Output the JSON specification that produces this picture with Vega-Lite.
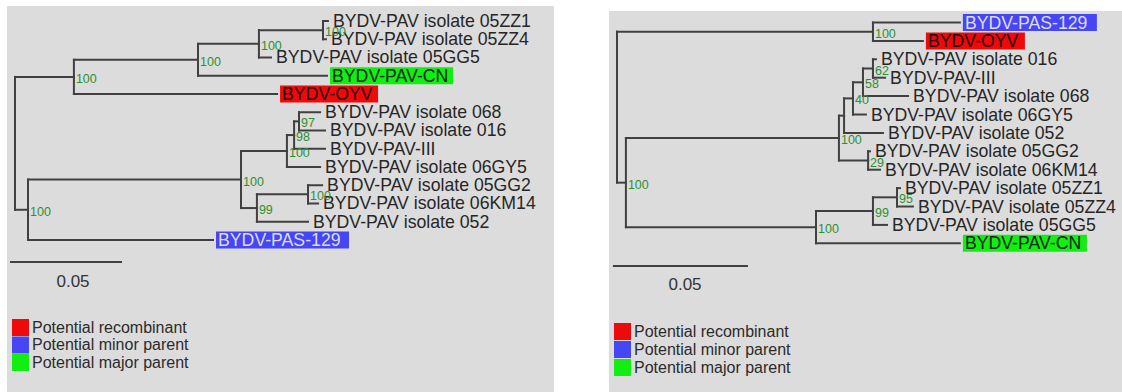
{
  "$schema": "https://vega.github.io/schema/vega-lite/v6.json",
  "padding": {"left": 7, "top": 6, "right": 0, "bottom": 0},
  "spacing": 55,
  "background": "white",
  "config": {
    "font": "Liberation Sans",
    "view": {"fill": "#dcdcdc", "stroke": null}
  },
  "datasets": {
    "left": [
      {"id": "root", "x": 0, "y": 6.703},
      {"id": "A", "x": 0.0263, "y": 3.063, "px": 0, "py": 6.703, "boot": 100},
      {"id": "n198", "x": 0.0817, "y": 2.125, "px": 0.0263, "py": 3.063, "boot": 100},
      {"id": "n259", "x": 0.1089, "y": 1.25, "px": 0.0817, "py": 2.125, "boot": 100},
      {"id": "nZZ", "x": 0.1375, "y": 0.5, "px": 0.1089, "py": 1.25, "boot": 100},
      {"name": "BYDV-PAV isolate 05ZZ1", "x": 0.1397, "y": 0, "px": 0.1375, "py": 0.5},
      {"name": "BYDV-PAV isolate 05ZZ4", "x": 0.1388, "y": 1, "px": 0.1375, "py": 0.5},
      {"name": "BYDV-PAV isolate 05GG5", "x": 0.1143, "y": 2, "px": 0.1089, "py": 1.25},
      {"name": "BYDV-PAV-CN", "role": "Potential major parent", "x": 0.1393, "y": 3, "px": 0.0817, "py": 2.125},
      {"name": "BYDV-OYV", "role": "Potential recombinant", "x": 0.117, "y": 4, "px": 0.0263, "py": 3.063},
      {"id": "n28", "x": 0.0058, "y": 10.344, "px": 0, "py": 6.703, "boot": 100},
      {"id": "n241", "x": 0.1009, "y": 8.688, "px": 0.0058, "py": 10.344, "boot": 100},
      {"id": "n287", "x": 0.1214, "y": 7.125, "px": 0.1009, "py": 8.688, "boot": 100},
      {"id": "n295", "x": 0.1246, "y": 6.25, "px": 0.1214, "py": 7.125, "boot": 98},
      {"id": "n299", "x": 0.1268, "y": 5.5, "px": 0.1246, "py": 6.25, "boot": 97},
      {"name": "BYDV-PAV isolate 068", "x": 0.1362, "y": 5, "px": 0.1268, "py": 5.5},
      {"name": "BYDV-PAV isolate 016", "x": 0.1384, "y": 6, "px": 0.1268, "py": 5.5},
      {"name": "BYDV-PAV-III", "x": 0.1384, "y": 7, "px": 0.1246, "py": 6.25},
      {"name": "BYDV-PAV isolate 06GY5", "x": 0.1362, "y": 8, "px": 0.1214, "py": 7.125},
      {"id": "n257", "x": 0.108, "y": 10.25, "px": 0.1009, "py": 8.688, "boot": 99},
      {"id": "n308", "x": 0.1308, "y": 9.5, "px": 0.108, "py": 10.25, "boot": 100},
      {"name": "BYDV-PAV isolate 05GG2", "x": 0.1371, "y": 9, "px": 0.1308, "py": 9.5},
      {"name": "BYDV-PAV isolate 06KM14", "x": 0.1353, "y": 10, "px": 0.1308, "py": 9.5},
      {"name": "BYDV-PAV isolate 052", "x": 0.1308, "y": 11, "px": 0.108, "py": 10.25},
      {"name": "BYDV-PAS-129", "role": "Potential minor parent", "x": 0.0884, "y": 12, "px": 0.0058, "py": 10.344}
    ],
    "right": [
      {"id": "root", "x": 0, "y": 4.602},
      {"id": "A", "x": 0.0948, "y": 0.5, "px": 0, "py": 4.602, "boot": 100},
      {"name": "BYDV-PAS-129", "role": "Potential minor parent", "x": 0.127, "y": 0, "px": 0.0948, "py": 0.5},
      {"name": "BYDV-OYV", "role": "Potential recombinant", "x": 0.1133, "y": 1, "px": 0.0948, "py": 0.5},
      {"id": "B", "x": 0.0033, "y": 8.703, "px": 0, "py": 4.602, "boot": 100},
      {"id": "C", "x": 0.0822, "y": 6.281, "px": 0.0033, "py": 8.703, "boot": 100},
      {"id": "D", "x": 0.0841, "y": 5.063, "px": 0.0822, "py": 6.281},
      {"id": "E", "x": 0.0874, "y": 4.125, "px": 0.0841, "py": 5.063, "boot": 40},
      {"id": "F", "x": 0.0911, "y": 3.25, "px": 0.0874, "py": 4.125, "boot": 58},
      {"id": "G", "x": 0.0948, "y": 2.5, "px": 0.0911, "py": 3.25, "boot": 62},
      {"name": "BYDV-PAV isolate 016", "x": 0.0959, "y": 2, "px": 0.0948, "py": 2.5},
      {"name": "BYDV-PAV-III", "x": 0.0993, "y": 3, "px": 0.0948, "py": 2.5},
      {"name": "BYDV-PAV isolate 068", "x": 0.1078, "y": 4, "px": 0.0911, "py": 3.25},
      {"name": "BYDV-PAV isolate 06GY5", "x": 0.0922, "y": 5, "px": 0.0874, "py": 4.125},
      {"name": "BYDV-PAV isolate 052", "x": 0.0985, "y": 6, "px": 0.0841, "py": 5.063},
      {"id": "H", "x": 0.093, "y": 7.5, "px": 0.0822, "py": 6.281, "boot": 29},
      {"name": "BYDV-PAV isolate 05GG2", "x": 0.0937, "y": 7, "px": 0.093, "py": 7.5},
      {"name": "BYDV-PAV isolate 06KM14", "x": 0.0974, "y": 8, "px": 0.093, "py": 7.5},
      {"id": "I", "x": 0.0737, "y": 11.125, "px": 0.0033, "py": 8.703, "boot": 100},
      {"id": "J", "x": 0.0948, "y": 10.25, "px": 0.0737, "py": 11.125, "boot": 99},
      {"id": "K", "x": 0.1037, "y": 9.5, "px": 0.0948, "py": 10.25, "boot": 95},
      {"name": "BYDV-PAV isolate 05ZZ1", "x": 0.1048, "y": 9, "px": 0.1037, "py": 9.5},
      {"name": "BYDV-PAV isolate 05ZZ4", "x": 0.1096, "y": 10, "px": 0.1037, "py": 9.5},
      {"name": "BYDV-PAV isolate 05GG5", "x": 0.1, "y": 11, "px": 0.0948, "py": 10.25},
      {"name": "BYDV-PAV-CN", "role": "Potential major parent", "x": 0.127, "y": 12, "px": 0.0737, "py": 11.125}
    ],
    "leftScale": [{"x": -0.0022, "x2": 0.0478, "y": 13.21, "lx": 0.0259, "ly": 14.3, "label": "0.05"}],
    "rightScale": [{"x": -0.0015, "x2": 0.0485, "y": 13.23, "lx": 0.0252, "ly": 14.27, "label": "0.05"}]
  },
  "resolve": {
    "scale": {"x": "independent", "y": "independent", "color": "independent"},
    "legend": {"color": "independent"}
  },
  "hconcat": [
    {
      "width": 547,
      "height": 386,
      "layer": [
        {
          "data": {"name": "left"},
          "transform": [{"filter": "isValid(datum.px)"}],
          "mark": {"type": "rule", "color": "#404040", "strokeWidth": 2, "strokeCap": "square"},
          "encoding": {
            "x": {"field": "px", "type": "quantitative", "scale": {"domain": [-0.00357, 0.24063], "nice": false, "zero": false}, "axis": null},
            "y": {"field": "py", "type": "quantitative", "scale": {"domain": [-0.822, 20.33], "nice": false, "zero": false, "reverse": true}, "axis": null},
            "y2": {"field": "y"}
          }
        },
        {
          "data": {"name": "left"},
          "transform": [{"filter": "isValid(datum.px)"}],
          "mark": {"type": "rule", "color": "#404040", "strokeWidth": 2, "strokeCap": "square"},
          "encoding": {
            "x": {"field": "px", "type": "quantitative"},
            "x2": {"field": "x"},
            "y": {"field": "y", "type": "quantitative"}
          }
        },
        {
          "data": {"name": "left"},
          "transform": [{"filter": "datum.name === 'BYDV-OYV'"}],
          "mark": {"type": "rect", "xOffset": 3, "x2Offset": 101, "yOffset": -8.5, "y2Offset": 8.5},
          "encoding": {
            "x": {"field": "x", "type": "quantitative"},
            "x2": {"field": "x"},
            "y": {"field": "y", "type": "quantitative"},
            "y2": {"field": "y"},
            "color": {"field": "role", "type": "nominal",
              "scale": {"domain": ["Potential recombinant", "Potential minor parent", "Potential major parent"], "range": ["#ee0a0a", "#4646f5", "#12ee12"]},
              "legend": {"orient": "none", "legendX": 5, "legendY": 313, "title": null, "symbolType": "square", "symbolSize": 289, "symbolStrokeWidth": 0, "symbolOpacity": 1, "labelFontSize": 16, "labelColor": "#2b2b2b", "labelOffset": 3, "rowPadding": 0.5, "padding": 0}}
          }
        },
        {
          "data": {"name": "left"},
          "transform": [{"filter": "datum.name === 'BYDV-PAV-CN'"}],
          "mark": {"type": "rect", "xOffset": 3, "x2Offset": 126, "yOffset": -8.5, "y2Offset": 8.5},
          "encoding": {
            "x": {"field": "x", "type": "quantitative"},
            "x2": {"field": "x"},
            "y": {"field": "y", "type": "quantitative"},
            "y2": {"field": "y"},
            "color": {"field": "role", "type": "nominal"}
          }
        },
        {
          "data": {"name": "left"},
          "transform": [{"filter": "datum.name === 'BYDV-PAS-129'"}],
          "mark": {"type": "rect", "xOffset": 3, "x2Offset": 136, "yOffset": -8.5, "y2Offset": 8.5},
          "encoding": {
            "x": {"field": "x", "type": "quantitative"},
            "x2": {"field": "x"},
            "y": {"field": "y", "type": "quantitative"},
            "y2": {"field": "y"},
            "color": {"field": "role", "type": "nominal"}
          }
        },
        {
          "data": {"name": "left"},
          "transform": [{"filter": "isValid(datum.name)"}],
          "mark": {"type": "text", "align": "left", "baseline": "middle", "dx": 5, "dy": 1, "fontSize": 17.7},
          "encoding": {
            "x": {"field": "x", "type": "quantitative"},
            "y": {"field": "y", "type": "quantitative"},
            "text": {"field": "name"},
            "color": {"condition": [
              {"test": "datum.name === 'BYDV-PAS-129'", "value": "#dcdcff"},
              {"test": "datum.name === 'BYDV-OYV'", "value": "#2a0000"},
              {"test": "datum.name === 'BYDV-PAV-CN'", "value": "#062806"}
            ], "value": "#262626"}
          }
        },
        {
          "data": {"name": "left"},
          "transform": [{"filter": "isValid(datum.boot)"}],
          "mark": {"type": "text", "align": "left", "baseline": "middle", "dx": 2, "dy": 2, "fontSize": 12.5, "color": "#2e8f2e"},
          "encoding": {
            "x": {"field": "x", "type": "quantitative"},
            "y": {"field": "y", "type": "quantitative"},
            "text": {"field": "boot"}
          }
        },
        {
          "data": {"name": "leftScale"},
          "mark": {"type": "rule", "color": "#404040", "strokeWidth": 2},
          "encoding": {
            "x": {"field": "x", "type": "quantitative"},
            "x2": {"field": "x2"},
            "y": {"field": "y", "type": "quantitative"}
          }
        },
        {
          "data": {"name": "leftScale"},
          "mark": {"type": "text", "align": "center", "baseline": "middle", "fontSize": 17, "color": "#333333"},
          "encoding": {
            "x": {"field": "lx", "type": "quantitative"},
            "y": {"field": "ly", "type": "quantitative"},
            "text": {"field": "label"}
          }
        }
      ]
    },
    {
      "spacing": 4,
      "resolve": {"scale": {"color": "independent"}, "legend": {"color": "independent"}},
      "vconcat": [
        {
          "width": 513,
          "height": 1,
          "view": {"fill": null, "stroke": null},
          "data": {"values": [{"a": 0}]},
          "mark": {"type": "point", "opacity": 0, "size": 0, "strokeWidth": 0},
          "encoding": {}
        },
        {
          "width": 513,
          "height": 381,
          "layer": [
            {
              "data": {"name": "right"},
              "transform": [{"filter": "isValid(datum.px)"}],
              "mark": {"type": "rule", "color": "#404040", "strokeWidth": 2, "strokeCap": "square"},
              "encoding": {
                "x": {"field": "px", "type": "quantitative", "scale": {"domain": [-0.00296, 0.18704], "nice": false, "zero": false}, "axis": null},
                "y": {"field": "py", "type": "quantitative", "scale": {"domain": [-0.625, 20.08], "nice": false, "zero": false, "reverse": true}, "axis": null},
                "y2": {"field": "y"}
              }
            },
            {
              "data": {"name": "right"},
              "transform": [{"filter": "isValid(datum.px)"}],
              "mark": {"type": "rule", "color": "#404040", "strokeWidth": 2, "strokeCap": "square"},
              "encoding": {
                "x": {"field": "px", "type": "quantitative"},
                "x2": {"field": "x"},
                "y": {"field": "y", "type": "quantitative"}
              }
            },
            {
              "data": {"name": "right"},
              "transform": [{"filter": "datum.name === 'BYDV-OYV'"}],
              "mark": {"type": "rect", "xOffset": 3, "x2Offset": 102, "yOffset": -8.5, "y2Offset": 8.5},
              "encoding": {
                "x": {"field": "x", "type": "quantitative"},
                "x2": {"field": "x"},
                "y": {"field": "y", "type": "quantitative"},
                "y2": {"field": "y"},
                "color": {"field": "role", "type": "nominal",
                  "scale": {"domain": ["Potential recombinant", "Potential minor parent", "Potential major parent"], "range": ["#ee0a0a", "#4646f5", "#12ee12"]},
                  "legend": {"orient": "none", "legendX": 5, "legendY": 312, "title": null, "symbolType": "square", "symbolSize": 289, "symbolStrokeWidth": 0, "symbolOpacity": 1, "labelFontSize": 16, "labelColor": "#2b2b2b", "labelOffset": 3, "rowPadding": 1, "padding": 0}}
              }
            },
            {
              "data": {"name": "right"},
              "transform": [{"filter": "datum.name === 'BYDV-PAV-CN'"}],
              "mark": {"type": "rect", "xOffset": 3, "x2Offset": 127, "yOffset": -8.5, "y2Offset": 8.5},
              "encoding": {
                "x": {"field": "x", "type": "quantitative"},
                "x2": {"field": "x"},
                "y": {"field": "y", "type": "quantitative"},
                "y2": {"field": "y"},
                "color": {"field": "role", "type": "nominal"}
              }
            },
            {
              "data": {"name": "right"},
              "transform": [{"filter": "datum.name === 'BYDV-PAS-129'"}],
              "mark": {"type": "rect", "xOffset": 3, "x2Offset": 137, "yOffset": -8.5, "y2Offset": 8.5},
              "encoding": {
                "x": {"field": "x", "type": "quantitative"},
                "x2": {"field": "x"},
                "y": {"field": "y", "type": "quantitative"},
                "y2": {"field": "y"},
                "color": {"field": "role", "type": "nominal"}
              }
            },
            {
              "data": {"name": "right"},
              "transform": [{"filter": "isValid(datum.name)"}],
              "mark": {"type": "text", "align": "left", "baseline": "middle", "dx": 5, "dy": 1, "fontSize": 17.7},
              "encoding": {
                "x": {"field": "x", "type": "quantitative"},
                "y": {"field": "y", "type": "quantitative"},
                "text": {"field": "name"},
                "color": {"condition": [
                  {"test": "datum.name === 'BYDV-PAS-129'", "value": "#dcdcff"},
                  {"test": "datum.name === 'BYDV-OYV'", "value": "#2a0000"},
                  {"test": "datum.name === 'BYDV-PAV-CN'", "value": "#062806"}
                ], "value": "#262626"}
              }
            },
            {
              "data": {"name": "right"},
              "transform": [{"filter": "isValid(datum.boot)"}],
              "mark": {"type": "text", "align": "left", "baseline": "middle", "dx": 2, "dy": 2, "fontSize": 12.5, "color": "#2e8f2e"},
              "encoding": {
                "x": {"field": "x", "type": "quantitative"},
                "y": {"field": "y", "type": "quantitative"},
                "text": {"field": "boot"}
              }
            },
            {
              "data": {"name": "rightScale"},
              "mark": {"type": "rule", "color": "#404040", "strokeWidth": 2},
              "encoding": {
                "x": {"field": "x", "type": "quantitative"},
                "x2": {"field": "x2"},
                "y": {"field": "y", "type": "quantitative"}
              }
            },
            {
              "data": {"name": "rightScale"},
              "mark": {"type": "text", "align": "center", "baseline": "middle", "fontSize": 17, "color": "#333333"},
              "encoding": {
                "x": {"field": "lx", "type": "quantitative"},
                "y": {"field": "ly", "type": "quantitative"},
                "text": {"field": "label"}
              }
            }
          ]
        }
      ]
    }
  ]
}
